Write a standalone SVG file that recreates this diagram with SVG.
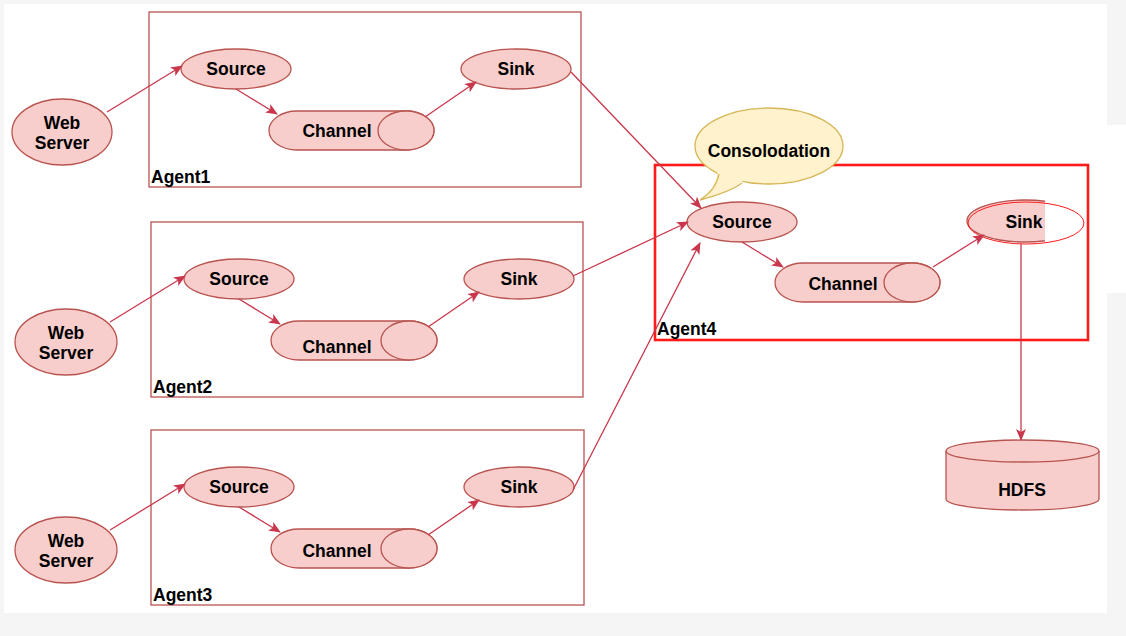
<svg xmlns="http://www.w3.org/2000/svg" width="1126" height="636" viewBox="0 0 1126 636">
<style>
.n{fill:#f8cecc;stroke:#b85450;stroke-width:1.3}
.box{fill:none;stroke:#b85450;stroke-width:1.3}
.t{font-family:"Liberation Sans",Arial,sans-serif;font-weight:bold;font-size:17.5px;fill:#000;text-anchor:middle}
.lab{font-family:"Liberation Sans",Arial,sans-serif;font-weight:bold;font-size:17.5px;fill:#000}
.e{fill:none;stroke:#c9374c;stroke-width:1.3}
</style>
<defs>
<marker id="a" viewBox="0 0 12 10" refX="11" refY="5" markerWidth="12" markerHeight="10" markerUnits="userSpaceOnUse" orient="auto">
<path d="M0,0 L12,5 L0,10 L3,5 Z" fill="#c9374c"/>
</marker>
<clipPath id="sk"><rect x="960" y="190" width="85" height="60"/></clipPath>
</defs>
<rect width="1126" height="636" fill="#f5f5f5"/>
<rect x="4" y="4" width="1103" height="609" fill="#ffffff"/>
<rect x="1107" y="125" width="19" height="168" fill="#ffffff"/>

<g id="agent1">
<rect class="box" x="149" y="12" width="432" height="175"/>
<text class="lab" x="151" y="183">Agent1</text>
</g>
<g id="agent2">
<rect class="box" x="151" y="222" width="432" height="175"/>
<text class="lab" x="153" y="393">Agent2</text>
</g>
<g id="agent3">
<rect class="box" x="151" y="430" width="433" height="175"/>
<text class="lab" x="153" y="601">Agent3</text>
</g>
<g id="agent4">
<rect x="655" y="165" width="433" height="175" fill="none" stroke="#ff1a1a" stroke-width="2.6"/>
<text class="lab" x="657" y="335">Agent4</text>
</g>

<g id="web1"><ellipse class="n" cx="62" cy="132" rx="50" ry="33"/><text class="t" x="62" y="129">Web</text><text class="t" x="62" y="149">Server</text></g>
<g id="web2"><ellipse class="n" cx="66" cy="342" rx="51" ry="33"/><text class="t" x="66" y="339">Web</text><text class="t" x="66" y="359">Server</text></g>
<g id="web3"><ellipse class="n" cx="66" cy="550" rx="51" ry="33"/><text class="t" x="66" y="547">Web</text><text class="t" x="66" y="567">Server</text></g>

<g id="source1"><ellipse class="n" cx="236" cy="69" rx="55" ry="20"/><text class="t" x="236" y="75">Source</text></g>
<g id="sink1"><ellipse class="n" cx="516" cy="69" rx="55" ry="20"/><text class="t" x="516" y="75">Sink</text></g>
<g id="channel1"><path class="n" d="M297 111 H406 A28 19.5 0 0 1 406 150 H297 A28 19.5 0 0 1 297 111 Z"/><ellipse class="n" cx="406" cy="130.5" rx="28" ry="19.5"/><text class="t" x="337" y="137">Channel</text></g>

<g id="source2"><ellipse class="n" cx="239" cy="279" rx="55" ry="20"/><text class="t" x="239" y="285">Source</text></g>
<g id="sink2"><ellipse class="n" cx="519" cy="279" rx="55" ry="20"/><text class="t" x="519" y="285">Sink</text></g>
<g id="channel2"><path class="n" d="M299 321 H409 A28 19.5 0 0 1 409 360 H299 A28 19.5 0 0 1 299 321 Z"/><ellipse class="n" cx="409" cy="340.5" rx="28" ry="19.5"/><text class="t" x="337" y="353">Channel</text></g>

<g id="source3"><ellipse class="n" cx="239" cy="487" rx="55" ry="20"/><text class="t" x="239" y="493">Source</text></g>
<g id="sink3"><ellipse class="n" cx="519" cy="487" rx="55" ry="20"/><text class="t" x="519" y="493">Sink</text></g>
<g id="channel3"><path class="n" d="M299 529 H409 A28 19.5 0 0 1 409 568 H299 A28 19.5 0 0 1 299 529 Z"/><ellipse class="n" cx="409" cy="548.5" rx="28" ry="19.5"/><text class="t" x="337" y="557">Channel</text></g>

<g id="source4"><ellipse class="n" cx="742" cy="222" rx="55" ry="20"/><text class="t" x="742" y="228">Source</text></g>
<g id="channel4"><path class="n" d="M803 263 H912 A28 19.5 0 0 1 912 302 H803 A28 19.5 0 0 1 803 263 Z"/><ellipse class="n" cx="912" cy="282.5" rx="28" ry="19.5"/><text class="t" x="843" y="290">Channel</text></g>
<g id="sink4">
<ellipse class="n" cx="1025" cy="221" rx="58" ry="21" clip-path="url(#sk)"/>
<ellipse cx="1026" cy="223" rx="58" ry="21" fill="none" stroke="#ff1a1a" stroke-width="1"/>
<text class="t" x="1024" y="228">Sink</text>
</g>
<g id="hdfs">
<path class="n" d="M946 451 A76.5 11 0 0 1 1099 451 V499 A76.5 11 0 0 1 946 499 Z"/>
<path fill="none" stroke="#b85450" stroke-width="1.3" d="M946 451 A76.5 11 0 0 0 1099 451"/>
<text class="t" x="1022" y="496">HDFS</text>
</g>
<g id="callout">
<ellipse cx="769" cy="146" rx="74" ry="38" fill="#fff2cc" stroke="#d6b656" stroke-width="1.3"/>
<path d="M718 170 Q716 190 700 200 Q730 192 744 180 Z" fill="#fff2cc"/>
<path d="M719 174 Q716 190 700 200 Q730 192 742 183" fill="none" stroke="#d6b656" stroke-width="1.3"/>
<text class="t" x="769" y="157">Consolodation</text>
</g>

<g id="connectors">
<line class="e" x1="107" y1="112" x2="182" y2="66" marker-end="url(#a)"/>
<line class="e" x1="236" y1="89" x2="277" y2="114" marker-end="url(#a)"/>
<line class="e" x1="425" y1="117" x2="476" y2="82" marker-end="url(#a)"/>
<line class="e" x1="571" y1="72" x2="701" y2="208" marker-end="url(#a)"/>
<line class="e" x1="110" y1="322" x2="185" y2="276" marker-end="url(#a)"/>
<line class="e" x1="239" y1="299" x2="280" y2="324" marker-end="url(#a)"/>
<line class="e" x1="428" y1="327" x2="479" y2="292" marker-end="url(#a)"/>
<line class="e" x1="573" y1="276" x2="688" y2="222" marker-end="url(#a)"/>
<line class="e" x1="110" y1="530" x2="185" y2="484" marker-end="url(#a)"/>
<line class="e" x1="239" y1="507" x2="280" y2="532" marker-end="url(#a)"/>
<line class="e" x1="428" y1="535" x2="479" y2="500" marker-end="url(#a)"/>
<line class="e" x1="573" y1="490" x2="700" y2="243" marker-end="url(#a)"/>
<line class="e" x1="742" y1="242" x2="783" y2="267" marker-end="url(#a)"/>
<line class="e" x1="933" y1="267" x2="984" y2="235" marker-end="url(#a)"/>
<line class="e" x1="1021" y1="244" x2="1021" y2="440" marker-end="url(#a)"/>
</g>
</svg>
